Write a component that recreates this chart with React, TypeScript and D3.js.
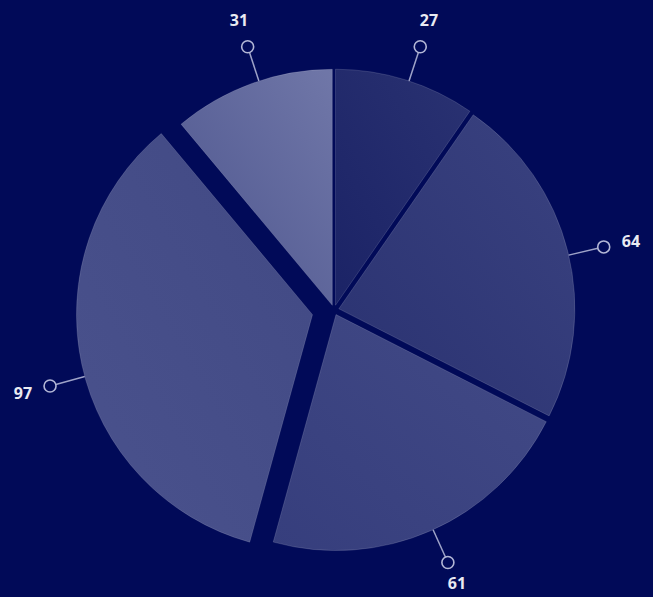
import React from "react"
import * as d3 from "d3"

// slice values, clockwise from 12 o'clock
const values = [27, 64, 61, 97, 31]
const labels = ["27", "64", "61", "97", "31"]

// styling per slice (dark -> light gradient stops), how far each one is pulled out,
// and a small angular nudge (degrees) of its marker
const gradStops = [
  ["#1b2366", "#2a3272"],
  ["#2a3271", "#3a4280"],
  ["#363e7d", "#424a86"],
  ["#4a528d", "#414984"],
  ["#4d558e", "#7077a8"],
]
const explode = [5, 5, 5, 22, 5]
const markerNudge = [0.8, 1, -0.5, -3, 1.8]

const W = 653
const H = 597
const cx = 334
const cy = 310
const R = 236

const App: React.FC = () => {
  const pie = d3
    .pie<number>()
    .sort(null)
    .value((d) => d)
  const arcs = pie(values)

  const arc = d3.arc<d3.PieArcDatum<number>>().innerRadius(0).outerRadius(R)

  const dir = (a: number): [number, number] => [Math.sin(a), -Math.cos(a)]

  return (
    <svg
      width={W}
      height={H}
      style={{ position: "absolute", left: 0, top: 0, display: "block" }}
    >
      <defs>
        {gradStops.map((s, i) => (
          <linearGradient
            key={i}
            id={`slice-grad-${i}`}
            x1="0"
            y1="1"
            x2="1"
            y2="0"
          >
            <stop offset="0%" stopColor={s[0]} />
            <stop offset="100%" stopColor={s[1]} />
          </linearGradient>
        ))}
      </defs>
      <rect width={W} height={H} fill="#010a58" />

      {arcs.map((a, i) => {
        const mid = (a.startAngle + a.endAngle) / 2
        const [ux, uy] = dir(mid)
        const ox = cx + ux * explode[i]
        const oy = cy + uy * explode[i]
        const [mx, my] = dir(mid + (markerNudge[i] * Math.PI) / 180)
        const circleR = 6
        const cr = R + 36
        const lr = i === 2 ? 294 : 300
        return (
          <g key={i}>
            <path
              d={arc(a) ?? ""}
              transform={`translate(${ox},${oy})`}
              fill={`url(#slice-grad-${i})`}
              stroke="rgba(255,255,255,0.14)"
              strokeWidth={1}
            />
            <line
              x1={ox + mx * R}
              y1={oy + my * R}
              x2={ox + mx * (cr - circleR)}
              y2={oy + my * (cr - circleR)}
              stroke="#9ea3c8"
              strokeWidth={1.5}
            />
            <circle
              cx={ox + mx * cr}
              cy={oy + my * cr}
              r={circleR}
              fill="none"
              stroke="#b3b7d6"
              strokeWidth={1.6}
            />
            <text
              x={ox + mx * lr}
              y={oy + my * lr}
              textAnchor="middle"
              dominantBaseline="central"
              fill="#e9eaf2"
              fontFamily="'Open Sans', sans-serif"
              fontWeight={700}
              fontSize={16}
            >
              {labels[i]}
            </text>
          </g>
        )
      })}
    </svg>
  )
}

export default App
